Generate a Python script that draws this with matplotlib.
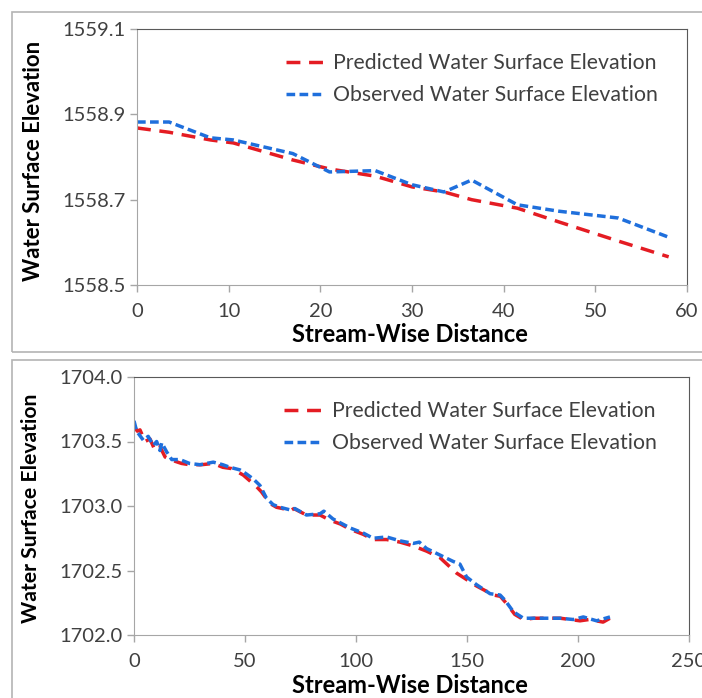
import numpy as np
import matplotlib.pyplot as plt
from matplotlib.patches import Rectangle
from matplotlib.ticker import FormatStrFormatter

# reach 1: stream-wise distance vs water surface elevation
dist_top = [0, 3.5, 8, 10.5, 17, 21, 26, 30, 33.5, 36.5, 41.5, 46, 52.5, 58]
pred_top = [1558.868, 1558.858, 1558.840, 1558.833, 1558.793, 1558.772, 1558.755,
            1558.730, 1558.718, 1558.700, 1558.680, 1558.648, 1558.603, 1558.566]
obs_top = [1558.882, 1558.882, 1558.845, 1558.840, 1558.808, 1558.765, 1558.768,
           1558.735, 1558.718, 1558.746, 1558.688, 1558.673, 1558.657, 1558.612]

# reach 2
dist_pred_bot = [0, 1.5, 2.7, 5, 7.2, 9.5, 11.7, 14, 16.2, 21.4,
                 25, 30.4, 35.7, 40, 44, 49.2, 55.2, 57.4, 61.2, 64.2,
                 67, 70.3, 72, 77.7, 83.8, 88.3, 93, 97.3, 103.3, 107.7,
                 113.8, 119.8, 125.8, 131.8, 137.8, 145.3, 149.8, 154.3, 161.9, 165,
                 168, 171.5, 175.4, 180, 186, 192, 200.9, 205, 211.3, 214.4]
pred_bot = [1703.62, 1703.58, 1703.59, 1703.50, 1703.52, 1703.43, 1703.46, 1703.38, 1703.36, 1703.33,
            1703.32, 1703.32, 1703.33, 1703.30, 1703.29, 1703.24, 1703.15, 1703.11, 1703.02, 1702.99,
            1702.98, 1702.96, 1702.98, 1702.93, 1702.93, 1702.89, 1702.86, 1702.82, 1702.78, 1702.74,
            1702.74, 1702.72, 1702.69, 1702.65, 1702.60, 1702.48, 1702.43, 1702.38, 1702.31, 1702.30,
            1702.24, 1702.16, 1702.12, 1702.13, 1702.13, 1702.13, 1702.11, 1702.12, 1702.10, 1702.13]
dist_obs_bot = [0, 1.2, 4.2, 6.4, 8.7, 10.2, 11.7, 12.5, 14.7, 17,
                20.7, 25, 29.7, 35.7, 40, 43.2, 47.7, 50.5, 53.7, 56.7,
                59.7, 62.7, 65.8, 70.3, 72.5, 77.7, 83.8, 85.5, 89.6, 97.3,
                103.3, 107.7, 113.8, 119.8, 125.8, 128.5, 131.8, 137.8, 143.8, 146.8,
                149.8, 154.3, 160.4, 164.9, 167.1, 170.9, 175.4, 179.9, 185.9, 192,
                197.9, 202.4, 208.4, 214.4]
obs_bot = [1703.66, 1703.58, 1703.51, 1703.54, 1703.47, 1703.50, 1703.43, 1703.49, 1703.42, 1703.36,
           1703.36, 1703.33, 1703.32, 1703.34, 1703.32, 1703.30, 1703.28, 1703.25, 1703.21, 1703.16,
           1703.06, 1703.01, 1702.99, 1702.97, 1702.98, 1702.93, 1702.94, 1702.96, 1702.90, 1702.83,
           1702.79, 1702.75, 1702.76, 1702.73, 1702.71, 1702.72, 1702.67, 1702.62, 1702.57, 1702.55,
           1702.45, 1702.39, 1702.32, 1702.31, 1702.27, 1702.18, 1702.13, 1702.13, 1702.13, 1702.13,
           1702.12, 1702.14, 1702.11, 1702.14]

labels = ['Predicted Water Surface Elevation', 'Observed Water Surface Elevation']

plt.rcParams['font.family'] = ['Lato', 'DejaVu Sans']
RED = '#e41c23'
BLUE = '#1f6fdc'
TXT = '#404040'

fig = plt.figure(figsize=(7.02, 6.98), dpi=100)
W, H = 702.0, 698.0

# light grey frames round each chart
fig.patches.append(Rectangle((12 / W, 1 - 352 / H), 700 / W, 340 / H, transform=fig.transFigure,
                             fill=False, edgecolor='#b4b4b4', lw=1.2))
fig.patches.append(Rectangle((12 / W, -0.01), 700 / W, 1 - 360 / H + 0.01, transform=fig.transFigure,
                             fill=False, edgecolor='#b4b4b4', lw=1.2))


def make_ax(box):
    l, t, r, b = box
    ax = fig.add_axes([l / W, 1 - b / H, (r - l) / W, (b - t) / H])
    for s in ['left', 'bottom']:
        ax.spines[s].set_color('#a6a6a6')
    for s in ['top', 'right']:
        ax.spines[s].set_color('#595959')
    ax.tick_params(colors='#a6a6a6', labelcolor=TXT, labelsize=14.5, length=5, width=1)
    ax.tick_params(axis='x', pad=8)
    ax.tick_params(axis='y', pad=3)
    return ax


def draw(ax, xp, yp, xo, yo):
    ax.plot(xp, yp, color=RED, lw=2.5, dashes=(4.0, 2.5), label=labels[0])
    ax.plot(xo, yo, color=BLUE, lw=2.5, dashes=(2.5, 1.25), label=labels[1])


ax1 = make_ax((137, 29, 687, 285))
draw(ax1, dist_top, pred_top, dist_top, obs_top)
ax1.set_xlim(0, 60)
ax1.set_ylim(1558.5, 1559.1)
ax1.set_xticks(np.arange(0, 61, 10))
ax1.set_yticks([1558.5, 1558.7, 1558.9, 1559.1])
ax1.yaxis.set_major_formatter(FormatStrFormatter('%.1f'))

ax2 = make_ax((134, 377, 689, 635))
draw(ax2, dist_pred_bot, pred_bot, dist_obs_bot, obs_bot)
ax2.set_xlim(0, 250)
ax2.set_ylim(1702.0, 1704.0)
ax2.set_xticks(np.arange(0, 251, 50))
ax2.set_yticks(np.arange(1702.0, 1704.01, 0.5))
ax2.yaxis.set_major_formatter(FormatStrFormatter('%.1f'))

for ax, ysize, yc, xc in [(ax1, 15.9, (-0.189, 0.484), (0.497, -0.195)),
                          (ax2, 15.2, (-0.186, 0.492), (0.498, -0.194))]:
    ax.set_ylabel('Water Surface Elevation', fontsize=ysize, fontweight='bold', color='black')
    ax.yaxis.set_label_coords(*yc)
    ax.yaxis.label.set_va('center')
    ax.set_xlabel('Stream-Wise Distance', fontsize=17, fontweight='bold', color='black')
    ax.xaxis.set_label_coords(*xc)
    ax.xaxis.label.set_va('center')
    leg = ax.legend(loc='upper left', bbox_to_anchor=(0.27, 0.906), frameon=False,
                    fontsize=15.3, handlelength=1.75, handletextpad=0.5, labelspacing=0.57,
                    borderpad=0, borderaxespad=0)
    for t in leg.get_texts():
        t.set_color(TXT)

fig.savefig('out.png', dpi=100)
